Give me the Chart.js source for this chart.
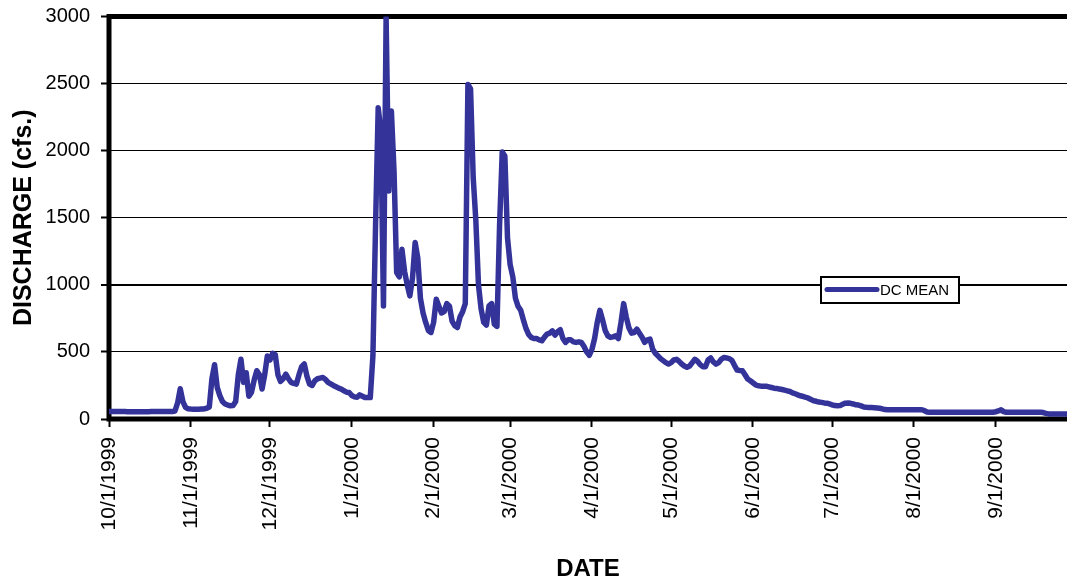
<!DOCTYPE html>
<html>
<head>
<meta charset="utf-8">
<script src="https://cdn.jsdelivr.net/npm/chart.js@4.4.0/dist/chart.umd.min.js"></script>
<style>
html,body{margin:0;padding:0;background:#fff;overflow:hidden}
canvas{display:block}
</style>
</head>
<body>
<canvas id="c" width="1067" height="585"></canvas>
<script>
// ---- DATA (daily mean discharge, cfs) ----
const seriesName = 'DC MEAN';
const oct1999 = [55,55,55,55,55,55,55,54,54,54,54,54,54,54,54,54,55,55,55,55,55,55,55,55,56,60,120,225,130,87,76];
const nov1999 = [74,73,72,72,74,75,80,90,300,405,236,174,130,112,104,99,100,130,330,445,273,345,170,200,290,360,330,223,330,470];
const dec1999 = [440,490,480,330,280,300,335,300,273,265,260,330,390,410,320,260,250,285,300,305,310,295,273,262,250,240,230,223,210,200,198];
const jan2000 = [175,165,162,180,170,160,160,160,470,1440,2320,2150,843,2990,1700,2295,1850,1092,1060,1265,1100,1000,918,1050,1315,1200,900,790,720,660,645];
const feb2000 = [720,893,840,790,800,860,840,730,695,682,760,800,860,2494,2460,1800,1480,1000,820,720,700,843,860,707,690,1450,1990,1960,1350];
const mar2000 = [1150,1060,900,840,810,740,675,630,608,600,600,590,583,610,633,640,657,625,650,665,600,571,590,590,575,571,575,570,540,500,475];
const apr2000 = [520,600,720,810,740,660,620,608,612,620,600,720,860,760,680,640,645,670,640,610,571,590,595,521,490,470,450,435,420,410];
const may2000 = [420,440,445,430,410,395,385,395,420,445,430,405,390,390,440,455,425,409,420,445,459,455,450,438,400,365,362,360,330,298,285];
const jun2000 = [270,255,248,245,245,245,240,235,230,228,223,220,215,210,205,195,188,180,173,168,162,155,145,136,132,126,124,120,118,112];
const jul2000 = [106,100,99,100,110,118,119,117,112,106,104,98,90,87,86,85,84,82,80,75,70,69,69,69,69,69,69,69,69,69,69];
const aug2000 = [69,69,69,69,62,52,50,50,50,50,50,50,50,50,50,50,50,50,50,50,50,50,50,50,50,50,50,50,50,50,50];
const sep2000 = [54,60,68,55,50,50,50,50,50,50,50,50,50,50,50,50,50,50,48,42,38,37,37,37,37,37,37,37,37,37];

const monthLabels = ['10/1/1999','11/1/1999','12/1/1999','1/1/2000','2/1/2000','3/1/2000',
                     '4/1/2000','5/1/2000','6/1/2000','7/1/2000','8/1/2000','9/1/2000'];
const yTickStep = 500;
const yMin = 0, yMax = 3000;
const yTitle = 'DISCHARGE (cfs.)';
const xTitle = 'DATE';

// ---- build ----
const months = [oct1999,nov1999,dec1999,jan2000,feb2000,mar2000,apr2000,may2000,jun2000,jul2000,aug2000,sep2000];
const monthStarts = [];
let acc = 0;
months.forEach(m => { monthStarts.push(acc); acc += m.length; });
const discharge = [].concat(...months);
const points = discharge.map((v, i) => ({x: i, y: v}));

const LINE = '#333399';
const FONT = "'Liberation Sans', Arial, sans-serif";

const framePlugin = {
  id: 'frame',
  beforeDatasetsDraw(chart) {
    const {ctx, chartArea: a} = chart;
    ctx.save();
    ctx.strokeStyle = '#000';
    ctx.lineWidth = 5;
    ctx.lineJoin = 'miter';
    ctx.strokeRect(a.left, a.top, (a.right - a.left) + 20, a.bottom - a.top);
    ctx.restore();
  }
};

const legendPlugin = {
  id: 'boxLegend',
  afterDatasetsDraw(chart) {
    const {ctx} = chart;
    ctx.save();
    ctx.fillStyle = '#fff';
    ctx.fillRect(821, 277, 138, 26);
    ctx.strokeStyle = '#000';
    ctx.lineWidth = 2;
    ctx.strokeRect(821, 277, 138, 26);
    ctx.strokeStyle = LINE;
    ctx.lineWidth = 5;
    ctx.lineCap = 'round';
    ctx.beginPath();
    ctx.moveTo(827, 289.5);
    ctx.lineTo(877, 289.5);
    ctx.stroke();
    ctx.fillStyle = '#000';
    ctx.font = '15px ' + FONT;
    ctx.textBaseline = 'middle';
    ctx.textAlign = 'left';
    ctx.fillText(seriesName, 880, 291);
    ctx.restore();
  }
};

new Chart(document.getElementById('c'), {
  type: 'line',
  data: {
    datasets: [{
      label: seriesName,
      data: points,
      borderColor: LINE,
      backgroundColor: LINE,
      borderWidth: 5.5,
      pointRadius: 0,
      tension: 0,
      borderJoinStyle: 'round',
      borderCapStyle: 'round',
      fill: false
    }]
  },
  options: {
    responsive: false,
    animation: false,
    devicePixelRatio: 1,
    layout: {padding: {top: 16.5, right: 0, bottom: 0, left: 0}},
    plugins: {legend: {display: false}, tooltip: {enabled: false}},
    scales: {
      x: {
        type: 'linear',
        min: 0,
        max: 363,
        afterBuildTicks: (scale) => { scale.ticks = monthStarts.map(v => ({value: v})); },
        afterFit: (scale) => { scale.height = 166; scale.paddingLeft = 0; scale.paddingRight = 0; },
        ticks: {
          autoSkip: false,
          minRotation: 90,
          maxRotation: 90,
          padding: 10,
          color: '#000',
          font: {family: FONT, size: 21},
          callback: (value) => monthLabels[monthStarts.indexOf(value)]
        },
        grid: {
          display: true,
          drawOnChartArea: false,
          drawTicks: true,
          tickLength: 8,
          tickWidth: 2,
          tickColor: '#000'
        },
        border: {display: false},
        title: {
          display: true,
          text: xTitle,
          color: '#000',
          font: {family: FONT, size: 24, weight: 'bold'},
          padding: {top: 0, bottom: 1}
        }
      },
      y: {
        min: yMin,
        max: yMax,
        afterFit: (scale) => { scale.width = 109; scale.paddingTop = 0; scale.paddingBottom = 0; },
        ticks: {
          stepSize: yTickStep,
          padding: 11,
          color: '#000',
          font: {family: FONT, size: 20},
          callback: (value) => String(value)
        },
        grid: {
          color: '#000',
          lineWidth: (ctx) => (ctx.tick && ctx.tick.value === 1000 ? 2 : 1),
          drawTicks: true,
          tickLength: 8,
          tickWidth: 2,
          tickColor: '#000'
        },
        border: {display: false},
        title: {
          display: true,
          text: yTitle,
          color: '#000',
          font: {family: FONT, size: 25, weight: 'bold'},
          padding: {top: 9, bottom: 0}
        }
      }
    }
  },
  plugins: [framePlugin, legendPlugin]
});
</script>
</body>
</html>
